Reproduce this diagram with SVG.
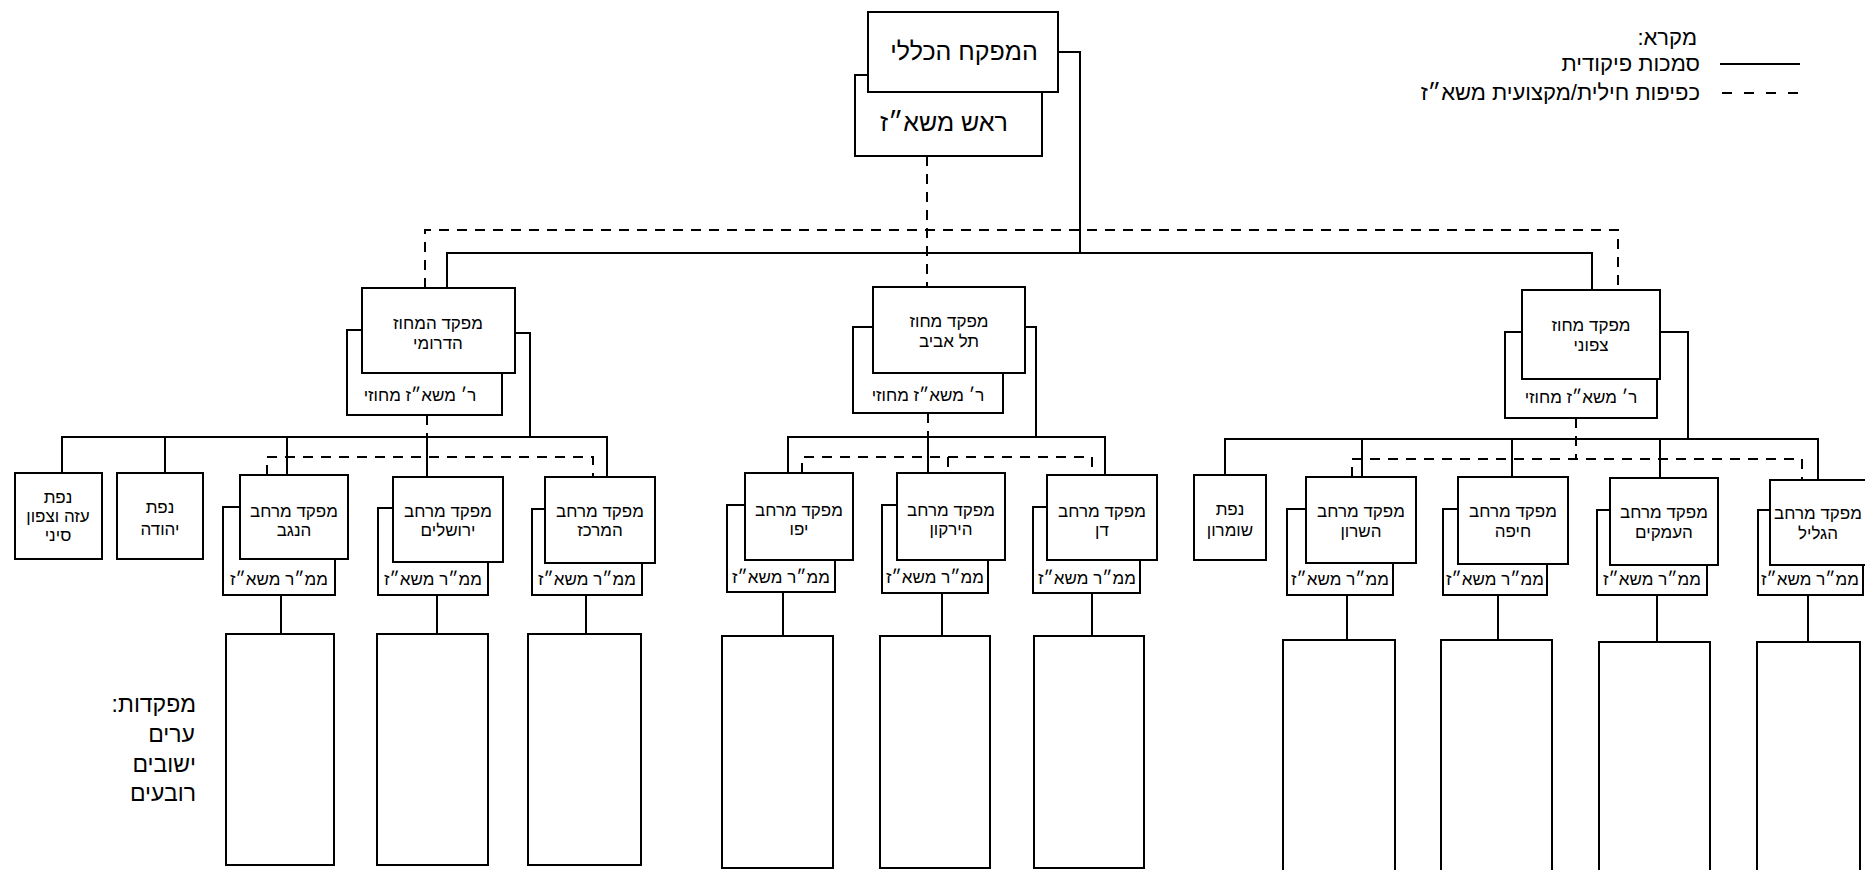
<svg xmlns="http://www.w3.org/2000/svg" width="1865" height="870" viewBox="0 0 1865 870">
<style>
.box{fill:#fff;stroke:#000;stroke-width:2}
.ln{fill:none;stroke:#000;stroke-width:2}
.ds{fill:none;stroke:#000;stroke-width:2;stroke-dasharray:10 8}
text{font-family:"Liberation Sans","DejaVu Sans",sans-serif;fill:#000;direction:rtl;unicode-bidi:embed}
.t1{font-size:25px;text-anchor:middle}
.t2{font-size:17px;text-anchor:middle}
.t3{font-size:17px;text-anchor:middle}
.t4{font-size:23px;text-anchor:start}
.lg{font-size:22px;text-anchor:start}
</style>
<rect width="1865" height="870" fill="#fff"/>
<g id="connectors">
<path class="ln" d="M1058,52 H1080 V253"/>
<path class="ln" d="M447,288 V253 H1592 V290"/>
<path class="ds" d="M425,288 V230 H1618 V290"/>
<path class="ds" d="M927,156 V287"/>
<path class="ln" d="M515,333 H530 V437"/>
<path class="ln" d="M62,473 V437 H607 V477 M165,437 V473 M287,437 V475 M427,437 V477"/>
<path class="ds" d="M427,415 V457"/>
<path class="ds" d="M267,475 V457 H593 V477"/>
<path class="ln" d="M1025,327 H1036 V437"/>
<path class="ln" d="M788,473 V437 H1105 V475 M928,437 V473"/>
<path class="ds" d="M928,413 V457"/>
<path class="ds" d="M802,473 V457 H1092 V475 M948,457 V473"/>
<path class="ln" d="M1660,332 H1688 V439"/>
<path class="ln" d="M1225,475 V439 H1818 V480 M1362,439 V477 M1512,439 V477 M1660,439 V478"/>
<path class="ds" d="M1576,418 V459"/>
<path class="ds" d="M1352,477 V459 H1802 V480"/>
<path class="ln" d="M281,595 V634 M437,595 V634 M586,595 V634 M783,592 V636 M942,593 V636 M1092,593 V636 M1347,595 V640 M1498,595 V640 M1657,595 V642 M1808,595 V642"/>
</g>
<g id="legend">
<text class="lg" x="1697" y="45">מקרא:</text>
<text class="lg" x="1700" y="71">סמכות פיקודית</text>
<text class="lg" x="1700" y="100">כפיפות חילית/מקצועית משא״ז</text>
<path class="ln" d="M1720,64 H1800"/>
<path class="ln" d="M1722,93 H1800" stroke-dasharray="10 12"/>
</g>
<g id="rosh-mashaz"><rect class="box" x="855" y="75" width="187" height="81"/><text class="t1" x="944" y="131">ראש משא״ז</text></g>
<g id="mefakeah"><rect class="box" x="868" y="12" width="190" height="80"/><text class="t1" x="964" y="60">המפקח הכללי</text></g>
<g id="south-rep"><rect class="box" x="347" y="330" width="155" height="85"/><text class="t2" x="420" y="401">ר׳ משא״ז מחוזי</text></g>
<g id="south-cmd"><rect class="box" x="362" y="288" width="153" height="85"/><text class="t2" x="438" y="329">מפקד המחוז</text><text class="t2" x="438" y="349">הדרומי</text></g>
<g id="ta-rep"><rect class="box" x="853" y="327" width="150" height="86"/><text class="t2" x="928" y="401">ר׳ משא״ז מחוזי</text></g>
<g id="ta-cmd"><rect class="box" x="873" y="287" width="152" height="86"/><text class="t2" x="949" y="327">מפקד מחוז</text><text class="t2" x="949" y="347">תל אביב</text></g>
<g id="north-rep"><rect class="box" x="1505" y="332" width="152" height="86"/><text class="t2" x="1581" y="403">ר׳ משא״ז מחוזי</text></g>
<g id="north-cmd"><rect class="box" x="1522" y="290" width="138" height="89"/><text class="t2" x="1591" y="331">מפקד מחוז</text><text class="t2" x="1591" y="351">צפוני</text></g>
<g id="nafa-gaza"><rect class="box" x="15" y="473" width="87" height="86"/><text class="t3" x="58" y="503">נפת</text><text class="t3" x="58" y="522">עזה וצפון</text><text class="t3" x="58" y="541">סיני</text></g>
<g id="nafa-yehuda"><rect class="box" x="117" y="473" width="86" height="86"/><text class="t3" x="160" y="513">נפת</text><text class="t3" x="160" y="535">יהודה</text></g>
<g id="negev-rep"><rect class="box" x="223" y="507" width="112" height="88"/><text class="t3" x="279" y="585">ממ״ר משא״ז</text></g>
<g id="negev-cmd"><rect class="box" x="240" y="475" width="108" height="84"/><text class="t3" x="294" y="517">מפקד מרחב</text><text class="t3" x="294" y="536">הנגב</text></g>
<g id="jlm-rep"><rect class="box" x="378" y="508" width="110" height="87"/><text class="t3" x="433" y="585">ממ״ר משא״ז</text></g>
<g id="jlm-cmd"><rect class="box" x="393" y="477" width="110" height="85"/><text class="t3" x="448" y="517">מפקד מרחב</text><text class="t3" x="448" y="536">ירושלים</text></g>
<g id="merkaz-rep"><rect class="box" x="532" y="509" width="110" height="86"/><text class="t3" x="587" y="585">ממ״ר משא״ז</text></g>
<g id="merkaz-cmd"><rect class="box" x="545" y="477" width="110" height="86"/><text class="t3" x="600" y="517">מפקד מרחב</text><text class="t3" x="600" y="536">המרכז</text></g>
<g id="jaffa-rep"><rect class="box" x="727" y="505" width="108" height="87"/><text class="t3" x="781" y="583">ממ״ר משא״ז</text></g>
<g id="jaffa-cmd"><rect class="box" x="745" y="473" width="108" height="87"/><text class="t3" x="799" y="516">מפקד מרחב</text><text class="t3" x="799" y="535">יפו</text></g>
<g id="yarkon-rep"><rect class="box" x="882" y="505" width="106" height="88"/><text class="t3" x="935" y="583">ממ״ר משא״ז</text></g>
<g id="yarkon-cmd"><rect class="box" x="897" y="473" width="108" height="87"/><text class="t3" x="951" y="516">מפקד מרחב</text><text class="t3" x="951" y="535">הירקון</text></g>
<g id="dan-rep"><rect class="box" x="1033" y="507" width="107" height="86"/><text class="t3" x="1087" y="584">ממ״ר משא״ז</text></g>
<g id="dan-cmd"><rect class="box" x="1047" y="475" width="110" height="85"/><text class="t3" x="1102" y="517">מפקד מרחב</text><text class="t3" x="1102" y="536">דן</text></g>
<g id="nafa-shomron"><rect class="box" x="1194" y="475" width="72" height="85"/><text class="t3" x="1230" y="515">נפת</text><text class="t3" x="1230" y="536">שומרון</text></g>
<g id="sharon-rep"><rect class="box" x="1287" y="509" width="106" height="86"/><text class="t3" x="1340" y="585">ממ״ר משא״ז</text></g>
<g id="sharon-cmd"><rect class="box" x="1306" y="477" width="110" height="86"/><text class="t3" x="1361" y="517">מפקד מרחב</text><text class="t3" x="1361" y="537">השרון</text></g>
<g id="haifa-rep"><rect class="box" x="1443" y="509" width="104" height="86"/><text class="t3" x="1495" y="585">ממ״ר משא״ז</text></g>
<g id="haifa-cmd"><rect class="box" x="1458" y="477" width="110" height="87"/><text class="t3" x="1513" y="517">מפקד מרחב</text><text class="t3" x="1513" y="537">חיפה</text></g>
<g id="emekim-rep"><rect class="box" x="1597" y="510" width="110" height="85"/><text class="t3" x="1652" y="585">ממ״ר משא״ז</text></g>
<g id="emekim-cmd"><rect class="box" x="1610" y="478" width="108" height="87"/><text class="t3" x="1664" y="518">מפקד מרחב</text><text class="t3" x="1664" y="538">העמקים</text></g>
<g id="galil-rep"><rect class="box" x="1758" y="510" width="105" height="85"/><text class="t3" x="1810" y="585">ממ״ר משא״ז</text></g>
<g id="galil-cmd"><rect class="box" x="1770" y="480" width="110" height="85"/><text class="t3" x="1818" y="519">מפקד מרחב</text><text class="t3" x="1818" y="539">הגליל</text></g>
<g id="units-negev"><rect class="box" x="226" y="634" width="108" height="231"/></g>
<g id="units-jlm"><rect class="box" x="377" y="634" width="111" height="231"/></g>
<g id="units-merkaz"><rect class="box" x="528" y="634" width="113" height="231"/></g>
<g id="units-jaffa"><rect class="box" x="722" y="636" width="111" height="232"/></g>
<g id="units-yarkon"><rect class="box" x="880" y="636" width="110" height="232"/></g>
<g id="units-dan"><rect class="box" x="1034" y="636" width="110" height="232"/></g>
<g id="units-sharon"><rect class="box" x="1283" y="640" width="112" height="240"/></g>
<g id="units-haifa"><rect class="box" x="1441" y="640" width="111" height="240"/></g>
<g id="units-emekim"><rect class="box" x="1599" y="642" width="111" height="240"/></g>
<g id="units-galil"><rect class="box" x="1757" y="642" width="103" height="240"/></g>
<g id="units-label">
<text class="t4" x="196" y="712">מפקדות:</text>
<text class="t4" x="195" y="742">ערים</text>
<text class="t4" x="196" y="772">ישובים</text>
<text class="t4" x="196" y="801">רובעים</text>
</g>
</svg>
